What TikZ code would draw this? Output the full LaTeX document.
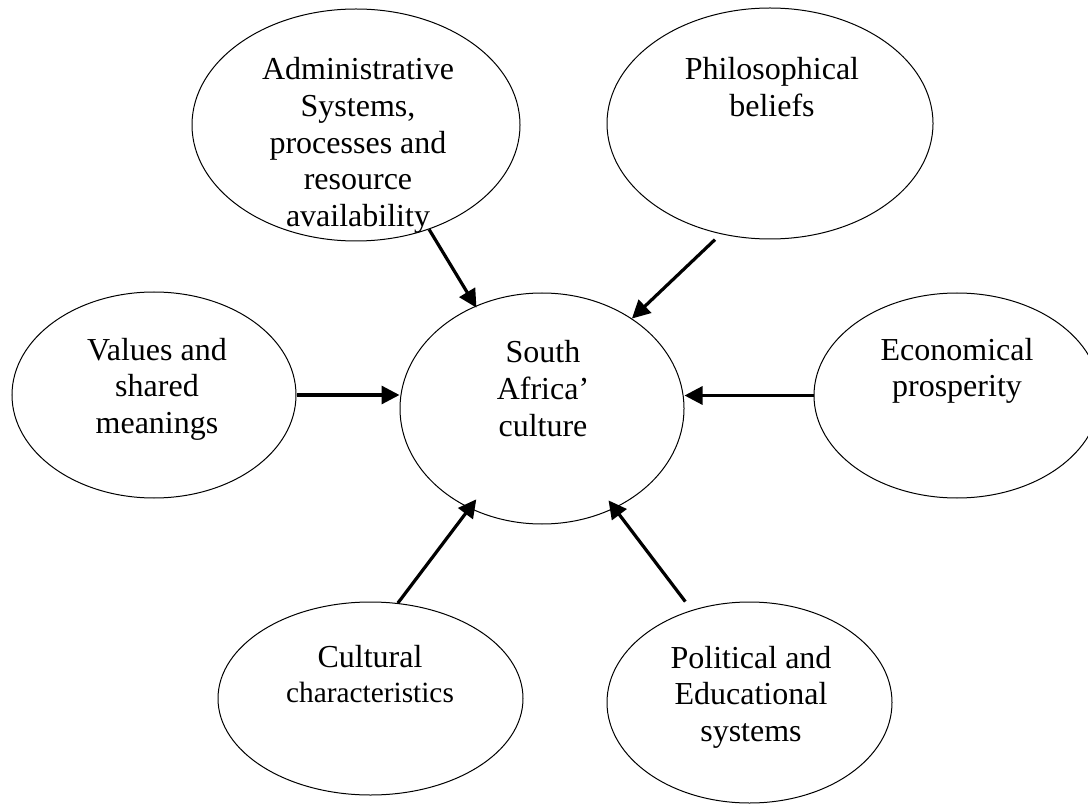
\documentclass[tikz,border=0pt]{standalone}
\usepackage{fontspec}
\setmainfont{Liberation Serif}
\usetikzlibrary{arrows.meta,shapes.geometric}
\newcommand{\mylines}[1]{\begin{tabular}[t]{@{}c@{}}#1\end{tabular}}
\begin{document}
\begin{tikzpicture}[x=0.75pt,y=-0.75pt,
  bubble/.style={draw, ellipse, line width=0.75pt, inner sep=0pt},
  txt/.style={anchor=base, inner sep=0pt, font=\fontsize{24}{27.5}\selectfont},
  link/.style={line width=2.4pt, -{Triangle[length=13.5pt,width=13.5pt]}}]
\clip (0,0) rectangle (1088,805);
% ellipses
\node[bubble, minimum width=246pt, minimum height=174pt] (admin) at (356,125) {};
\node[bubble, minimum width=244.5pt, minimum height=173.25pt] (phil) at (770,123.5) {};
\node[bubble, minimum width=213pt, minimum height=154.5pt] (values) at (154,395) {};
\node[bubble, minimum width=213pt, minimum height=173.25pt] (center) at (542,408.5) {};
\node[bubble, minimum width=214.5pt, minimum height=153.75pt] (econ) at (957,395.5) {};
\node[bubble, minimum width=228.75pt, minimum height=144.75pt] (cult) at (370.5,698.5) {};
\node[bubble, minimum width=213.75pt, minimum height=150.75pt] (pol) at (749.5,702.5) {};
% texts
\node[txt] (admintext) at (358,80) {\mylines{Administrative\\Systems,\\processes and\\resource\\availability}};
\node[txt] (philtext) at (772,80) {\mylines{Philosophical\\beliefs}};
\node[txt] (valuestext) at (157,360) {\mylines{Values and\\shared\\meanings}};
\node[txt] (centertext) at (543,363) {\mylines{South\\Africa’\\culture}};
\node[txt] (econtext) at (957,360) {\mylines{Economical\\prosperity}};
\node[txt] (culttext) at (370,667) {\mylines{Cultural\\[-1.25pt]{\fontsize{22}{26}\selectfont characteristics}}};
\node[txt] (poltext) at (751,668) {\mylines{Political and\\Educational\\systems}};
% connectors
\draw[link, shorten >=-1.5pt] (admin.-55) -- (center.123.4);
\draw[link, shorten <=6pt] (phil.-114) -- (center.45);
\draw[link] (values.east) -- (values.east -| center.west);
\draw[link] (econ.west) -- (econ.west -| center.east);
\draw[link, shorten >=-8.5pt] (cult.74) -- (center.234);
\draw[link, shorten <=8pt, shorten >=-7.5pt] (pol.122.3) -- (center.-54.1);
\end{tikzpicture}
\end{document}
